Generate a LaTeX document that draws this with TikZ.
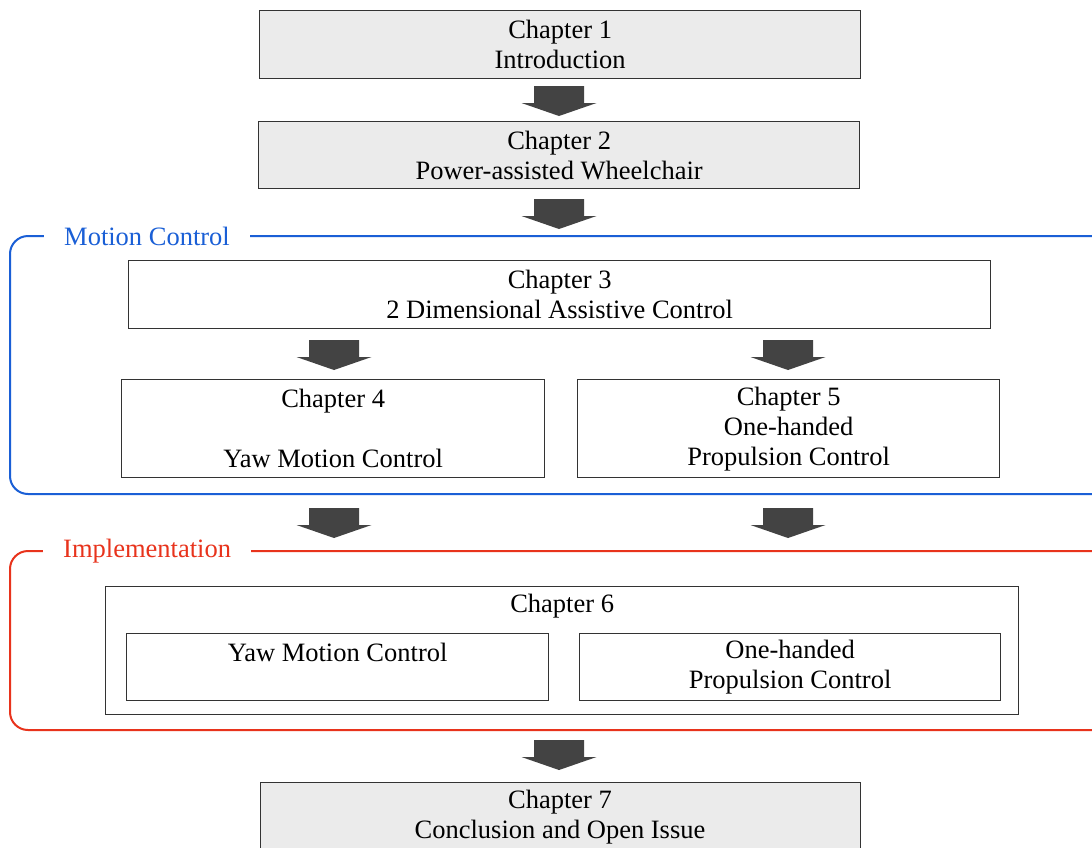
\documentclass[tikz,border=0pt]{standalone}
\usepackage{fontspec}
\setmainfont{Liberation Serif}
\usetikzlibrary{calc}
\definecolor{boxgray}{HTML}{EBEBEB}
\definecolor{arrowgray}{HTML}{434343}
\definecolor{motionblue}{HTML}{1A5FD6}
\definecolor{implred}{HTML}{E8331C}
\definecolor{edgegray}{HTML}{333333}
\begin{document}
\begin{tikzpicture}[x=1pt,y=-1pt,
  every node/.style={font=\fontsize{26.5}{30}\selectfont, inner sep=0pt},
  chapbox/.style={draw=edgegray, line width=1.3pt, align=center, anchor=north west},
  graybox/.style={chapbox, fill=boxgray},
  whitebox/.style={chapbox, fill=white},
  grouplabel/.style={fill=white, inner xsep=20pt, inner ysep=4pt},
  blk/.style={fill=arrowgray, draw=none}]
\clip (0,0) rectangle (1092,847);
\fill[white] (0,0) rectangle (1092,847);

% block arrow: centre x, top y
\newcommand{\blockarrow}[2]{%
  \fill[blk] (#1-25,#2) -- (#1+25,#2) -- (#1+25,#2+17) -- (#1+37.5,#2+17)
    -- (#1,#2+30) -- (#1-37.5,#2+17) -- (#1-25,#2+17) -- cycle;}

% chapters 1 and 2
\node[graybox, minimum width=601pt, minimum height=68pt] (c1) at (259,10) {Chapter 1\\Introduction};
\node[graybox, minimum width=601pt, minimum height=67pt] (c2) at (258,121) {Chapter 2\\Power-assisted Wheelchair};
\blockarrow{559}{86}
\blockarrow{559}{199}

% motion control group
\draw[motionblue, line width=2pt, rounded corners=18pt] (10,236) rectangle (1120,494);
\node[grouplabel, text=motionblue, anchor=west] (gm) at (44,236) {Motion Control};

\node[whitebox, minimum width=862pt, minimum height=68pt] (c3) at (128,260) {Chapter 3\\2 Dimensional Assistive Control};
\blockarrow{334}{340}
\blockarrow{788}{340}
\node[whitebox, minimum width=423pt, minimum height=98pt] (c4) at (121,379) {Chapter 4\\\mbox{}\\Yaw Motion Control};
\node[whitebox, minimum width=422pt, minimum height=98pt] (c5) at (577,379) {Chapter 5\\One-handed\\Propulsion Control};
\blockarrow{334}{508}
\blockarrow{788}{508}

% implementation group
\draw[implred, line width=2pt, rounded corners=18pt] (10,551) rectangle (1120,730);
\node[grouplabel, text=implred, anchor=west] (gi) at (43,551) {Implementation};

\node[whitebox, minimum width=913pt, minimum height=128pt] (c6) at (105,586) {};
\node (c6t) at ($(c6.north)+(0,20)$) {Chapter 6};
\node[whitebox, minimum width=422pt, minimum height=67pt] (c6a) at (126,633) {Yaw Motion Control\\\mbox{}};
\node[whitebox, minimum width=421pt, minimum height=67pt] (c6b) at (579,633) {One-handed\\Propulsion Control};
\blockarrow{559}{740}

% chapter 7
\node[graybox, minimum width=600pt, minimum height=100pt, text depth=0pt] (c7) at (260,782) {};
\node (c7t) at (560,817) [align=center] {Chapter 7\\Conclusion and Open Issue};
\end{tikzpicture}
\end{document}
